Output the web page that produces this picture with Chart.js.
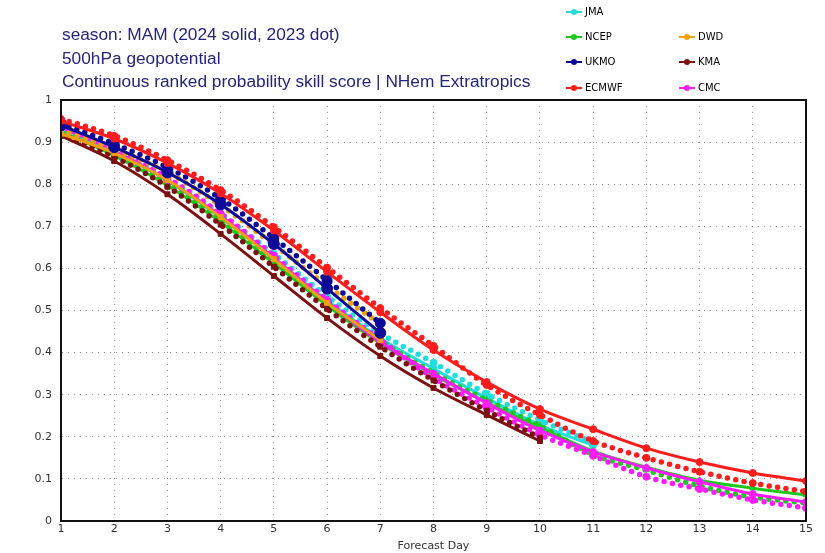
<!DOCTYPE html>
<html lang="en">
<head>
  <meta charset="UTF-8">
  <title>CRPSS 500hPa geopotential</title>
  <script src="https://cdn.jsdelivr.net/npm/chart.js"></script>
  <style>
    body { margin: 0; background: #fff; }
    .wrap { position: relative; width: 825px; height: 553px; }
    .titulo { position: absolute; left: 62px; top: 23px; color: #25257a;
      font-family: "Liberation Sans", Arial, sans-serif; font-size: 17.3px; line-height: 23.5px; }
    .leg { position: absolute; font-family: "DejaVu Sans", sans-serif; font-size: 10px; color: #000;
      display: flex; align-items: center; }
    .leg i { display: inline-block; width: 16px; height: 2px; margin-right: 3px; position: relative; }
    .leg i::after { content: ""; position: absolute; left: 5px; top: -2px; width: 6px; height: 6px;
      background: inherit; border-radius: 3px; }
  </style>
</head>
<body>
  <div class="wrap">
    <canvas id="grafico" width="825" height="553"></canvas>
    <div class="titulo">
      season: MAM (2024 solid, 2023 dot)<br>
      500hPa geopotential<br>
      Continuous ranked probability skill score | NHem Extratropics
    </div>
    <div id="legenda"></div>
  </div>

  <script>
    // dias de previsao
    const days = [1, 2, 3, 4, 5, 6, 7, 8, 9, 10, 11, 12, 13, 14, 15];

    // 2024 (linha cheia) e 2023 (pontilhada)
    const ecmwf2024 = [0.950, 0.908, 0.850, 0.778, 0.690, 0.592, 0.496, 0.406, 0.330, 0.266, 0.218, 0.173, 0.140, 0.114, 0.095];
    const ecmwf2023 = [0.955, 0.915, 0.857, 0.786, 0.698, 0.602, 0.506, 0.416, 0.323, 0.252, 0.190, 0.150, 0.117, 0.090, 0.070];
    const ukmo2024 = [0.940, 0.888, 0.828, 0.752, 0.658, 0.552, 0.447];
    const ukmo2023 = [0.945, 0.896, 0.840, 0.766, 0.672, 0.572, 0.470];
    const dwd2024 = [0.920, 0.874, 0.810, 0.722, 0.622, 0.518, 0.430];
    const dwd2023 = [0.928, 0.884, 0.828, 0.750, 0.656, 0.558, 0.468];
    const kma2024 = [0.915, 0.855, 0.776, 0.682, 0.582, 0.482, 0.392, 0.316, 0.252, 0.190];
    const kma2023 = [0.920, 0.865, 0.794, 0.704, 0.604, 0.504, 0.414, 0.334, 0.262, 0.198];
    const ncep2024 = [0.925, 0.868, 0.797, 0.710, 0.612, 0.512, 0.422, 0.347, 0.282, 0.222, 0.166, 0.128, 0.097, 0.078, 0.062];
    const ncep2023 = [0.930, 0.874, 0.802, 0.716, 0.618, 0.518, 0.428, 0.352, 0.287, 0.226, 0.158, 0.121, 0.083, 0.057, 0.043];
    const jma2024 = [0.930, 0.876, 0.808, 0.720, 0.624, 0.524, 0.434, 0.362, 0.292, 0.228, 0.180];
    const jma2023 = [0.935, 0.880, 0.815, 0.730, 0.634, 0.534, 0.446, 0.376, 0.302, 0.240, 0.186];
    const cmc2024 = [0.935, 0.880, 0.810, 0.725, 0.625, 0.520, 0.425, 0.350, 0.280, 0.215, 0.164, 0.126, 0.093, 0.064, 0.045];
    const cmc2023 = [0.940, 0.885, 0.815, 0.730, 0.630, 0.525, 0.430, 0.340, 0.270, 0.205, 0.155, 0.105, 0.076, 0.050, 0.031];

    const yTicks = [0, 0.1, 0.2, 0.3, 0.4, 0.5, 0.6, 0.7, 0.8, 0.9, 1];

    const modelos = [
      { nome: 'JMA', cor: '#22dddd', marca: 'circle', s24: jma2024, s23: jma2023 },
      { nome: 'NCEP', cor: '#1ec81e', marca: 'triangle', s24: ncep2024, s23: ncep2023 },
      { nome: 'DWD', cor: '#f0a010', marca: 'rect', s24: dwd2024, s23: dwd2023 },
      { nome: 'UKMO', cor: '#0a0a96', marca: 'circle', s24: ukmo2024, s23: ukmo2023 },
      { nome: 'KMA', cor: '#7a1212', marca: 'rect', s24: kma2024, s23: kma2023 },
      { nome: 'ECMWF', cor: '#ff1c1c', marca: 'circle', s24: ecmwf2024, s23: ecmwf2023 },
      { nome: 'CMC', cor: '#ff1cff', marca: 'circle', s24: cmc2024, s23: cmc2023 }
    ];

    // ordem de desenho: o primeiro fica por cima
    const ordemDesenho = ['ECMWF', 'UKMO', 'DWD', 'KMA', 'CMC', 'NCEP', 'JMA'];

    function pontos(vals) {
      return vals.map((v, i) => ({ x: days[i], y: v }));
    }

    const datasets = [];
    ordemDesenho.forEach(nome => {
      const m = modelos.find(k => k.nome === nome);
      datasets.push({
        label: m.nome + ' 2024',
        data: pontos(m.s24),
        borderColor: m.cor,
        backgroundColor: m.cor,
        borderWidth: 3,
        pointStyle: m.marca,
        pointRadius: m.nome === 'UKMO' ? 5.5 : 3.5,
        pointBorderWidth: 1,
        cubicInterpolationMode: 'monotone'
      });
      datasets.push({
        label: m.nome + ' 2023',
        data: pontos(m.s23),
        borderColor: m.cor,
        backgroundColor: m.cor,
        borderWidth: 5.5,
        borderDash: [0, 8.5],
        borderCapStyle: 'round',
        pointStyle: m.marca,
        pointRadius: m.nome === 'UKMO' ? 5 : 3.5,
        pointBorderWidth: 1,
        cubicInterpolationMode: 'monotone'
      });
    });

    // moldura preta em volta da area do grafico
    const moldura = {
      id: 'moldura',
      afterDraw(chart) {
        const a = chart.chartArea;
        const ctx = chart.ctx;
        ctx.save();
        ctx.strokeStyle = '#111';
        ctx.lineWidth = 2;
        ctx.strokeRect(a.left, a.top, a.right - a.left, a.bottom - a.top);
        ctx.restore();
      }
    };

    const fonteEixo = { family: 'DejaVu Sans', size: 11 };

    new Chart(document.getElementById('grafico'), {
      type: 'line',
      data: { datasets: datasets },
      options: {
        responsive: false,
        animation: false,
        layout: { padding: { top: 100, right: 19, left: 0, bottom: 0 } },
        plugins: { legend: { display: false }, tooltip: { enabled: false } },
        scales: {
          x: {
            type: 'linear',
            min: 1, max: 15,
            afterFit(s) { s.height = 32; },
            afterBuildTicks(s) { s.ticks = days.map(d => ({ value: d })); },
            ticks: { color: '#333', font: fonteEixo, padding: 2, callback: v => v },
            grid: { color: '#999', lineWidth: 1, drawTicks: false },
            border: { dash: [1, 5], color: '#111', width: 2 },
            title: { display: true, text: 'Forecast Day', color: '#333', font: fonteEixo, padding: 0 }
          },
          y: {
            min: 0, max: 1,
            afterFit(s) { s.width = 61; },
            afterBuildTicks(s) { s.ticks = yTicks.map(v => ({ value: v })); },
            ticks: { color: '#333', font: fonteEixo, padding: 9, callback: v => String(v) },
            grid: { color: '#999', lineWidth: 1, drawTicks: false },
            border: { dash: [1, 5], color: '#111', width: 2 }
          }
        }
      },
      plugins: [moldura]
    });

    // legenda (duas colunas, JMA sozinho em cima)
    const posLegenda = {
      JMA: [566, 6], NCEP: [566, 31], DWD: [679, 31], UKMO: [566, 56],
      KMA: [679, 56], ECMWF: [566, 82], CMC: [679, 82]
    };
    const leg = document.getElementById('legenda');
    modelos.forEach(m => {
      const p = posLegenda[m.nome];
      const d = document.createElement('div');
      d.className = 'leg';
      d.style.left = p[0] + 'px';
      d.style.top = p[1] + 'px';
      d.innerHTML = '<i style="background:' + m.cor + '"></i>' + m.nome;
      leg.appendChild(d);
    });
  </script>
</body>
</html>
